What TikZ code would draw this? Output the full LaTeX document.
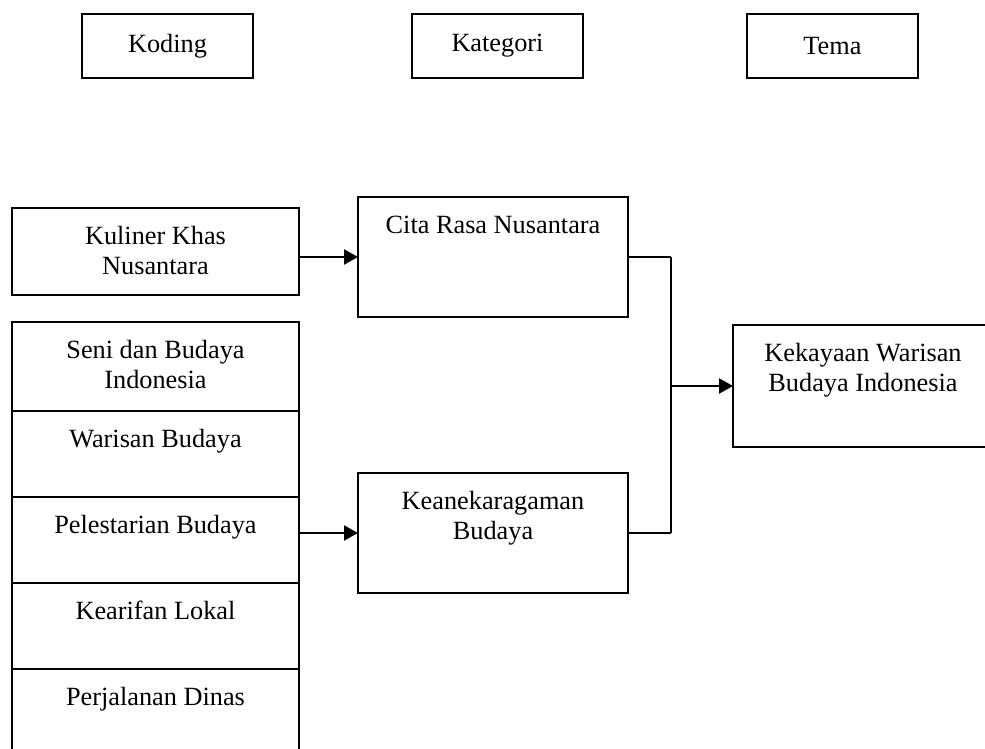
\documentclass[tikz,border=0pt]{standalone}
\usepackage{fontspec}
\setmainfont{Liberation Serif}
\usetikzlibrary{arrows.meta, positioning}

% text set at the top of a fixed-size box
\newcommand{\celltext}[3]{\parbox[c][#1][t]{#2}{\centering\rule{0pt}{18pt}#3\par}}

\begin{document}
\begin{tikzpicture}[
  x=0.5pt, y=-0.5pt,
  >={Triangle[length=7pt, width=7.5pt]},
  font=\fontsize{13.15pt}{15pt}\selectfont,
  head/.style = {draw, line width=0.85pt, rectangle, minimum width=85.5pt, minimum height=32pt,
                 inner sep=0pt, outer sep=0pt, anchor=north west},
  cell/.style = {draw, line width=0.85pt, rectangle, inner sep=0pt, outer sep=0pt},
  link/.style = {line width=1.1pt},
  stub/.style = {line width=0.6pt},
]
  \path[use as bounding box, clip] (0,0) rectangle (985,749);

%--- header row ---
  \node[head] (koding)   at (82,14)  {Koding};
  \node[head] (kategori) at (412,14) {Kategori};
  \node[head] (tema)     at (747,14) {Tema};

%--- koding column ---
  \node[cell, anchor=north west] (kuliner) at (12,208)
       {\celltext{43.5pt}{143.5pt}{Kuliner Khas\\Nusantara}};
  \node[cell, anchor=north west] (seni)    at (12,322)
       {\celltext{44.5pt}{143.5pt}{Seni dan Budaya\\Indonesia}};
  \node[cell, below=0pt of seni]        (warisan)     {\celltext{43pt}{143.5pt}{Warisan Budaya}};
  \node[cell, below=0pt of warisan]     (pelestarian) {\celltext{43pt}{143.5pt}{Pelestarian Budaya}};
  \node[cell, below=0pt of pelestarian] (kearifan)    {\celltext{43pt}{143.5pt}{Kearifan Lokal}};
  \node[cell, below=0pt of kearifan]    (perjalanan)  {\celltext{43pt}{143.5pt}{Perjalanan Dinas}};

%--- kategori column ---
  \node[cell, anchor=north west] (cita)      at (358,197)
       {\celltext{60pt}{135pt}{Cita Rasa Nusantara}};
  \node[cell, anchor=north west] (keragaman) at (358,473)
       {\celltext{60pt}{135pt}{Keanekaragaman\\Budaya}};

%--- tema ---
  \node[cell, anchor=north west] (kekayaan)  at (733,325)
       {\celltext{61pt}{130pt}{Kekayaan Warisan\\Budaya Indonesia}};

%--- connectors ---
  \draw[link, ->] (kuliner.east |- cita.west) -- (cita.west);
  \draw[link, ->] (pelestarian.east |- keragaman.west) -- (keragaman.west);

  \coordinate (join) at (671,386);
  \draw[stub] (cita.east)      -- (cita.east -| join);
  \draw[stub] (keragaman.east) -- (keragaman.east -| join);
  \draw[line width=1pt] (cita.east -| join) -- (keragaman.east -| join);
  \draw[link, ->] (join |- kekayaan.west) -- (kekayaan.west);
\end{tikzpicture}
\end{document}
